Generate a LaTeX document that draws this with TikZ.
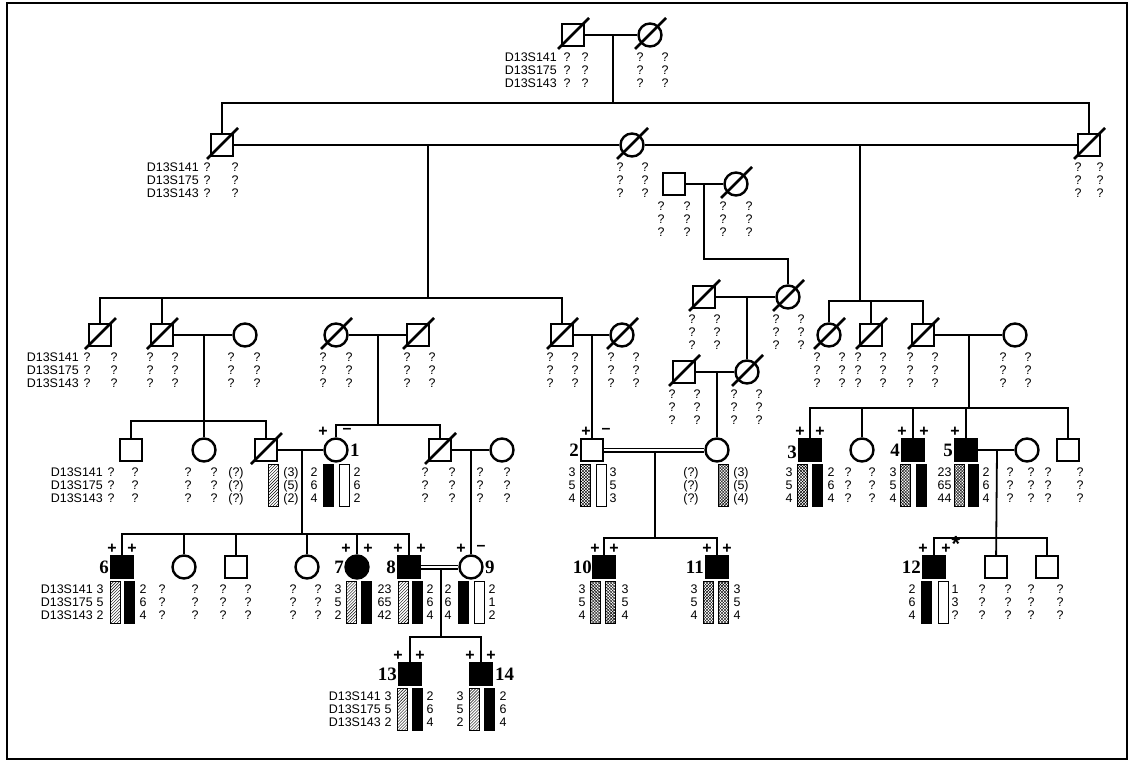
\documentclass[tikz,border=0pt]{standalone}
\usepackage{fontspec}
\setmainfont{Liberation Sans}
\newfontfamily\idfont{Liberation Serif}
\usetikzlibrary{patterns}

% deceased mark, allele columns, marker names and haplotype bars
\newcommand\dead[1]{\draw[slash] ([shift={(-15,14)}]#1.center) -- ([shift={(16,-17)}]#1.center);}
\newcommand\alle[5]{%
  \node[al] (a-#1-#2-1) at (#1,#2+22) {#3};
  \node[al] (a-#1-#2-2) at (#1,#2+35) {#4};
  \node[al] (a-#1-#2-3) at (#1,#2+48) {#5};}
\newcommand\unk[2]{\alle{#1}{#2}{?}{?}{?}}
\newcommand\loci[2]{%
  \node[al,anchor=east] (l-#1-#2-1) at (#1,#2+22) {D13S141};
  \node[al,anchor=east] (l-#1-#2-2) at (#1,#2+35) {D13S175};
  \node[al,anchor=east] (l-#1-#2-3) at (#1,#2+48) {D13S143};}
\newcommand\hap[3]{\draw[#3] (#1,#2+14) rectangle (#1+10,#2+56);}

\begin{document}
\begin{tikzpicture}[x=1bp,y=-1bp]
  % y axis flipped: rows are counted in pixels from the top
  \tikzset{
    sym/.style={draw,line width=2.4bp,inner sep=0pt,fill=white},
    male/.style={sym,rectangle,minimum size=22bp},
    female/.style={sym,circle,minimum size=23bp},
    aff/.style={fill=black},
    slash/.style={line width=2.6bp},
    lnk/.style={line width=1.8bp},
    dbl/.style={line width=1.3bp,double,double distance=2.4bp},
    al/.style={inner sep=0pt,text height=8.5bp,text depth=0pt,
      font=\fontsize{12.5}{12.5}\selectfont},
    sg/.style={inner sep=0pt,font=\bfseries\fontsize{16}{16}\selectfont},
    pid/.style={inner sep=0pt,font=\idfont\bfseries\fontsize{19}{19}\selectfont},
    hat/.style={draw,line width=1bp,pattern=north east lines},
    crs/.style={draw,line width=1bp,pattern=crosshatch},
    blk/.style={draw,line width=1bp,fill=black},
    wht/.style={draw,line width=1bp,fill=white}}
  \useasboundingbox (0,0) rectangle (1131,764);
  \draw[line width=1.5bp] (7,3) rectangle (1127,759);

  % generation I
  \node[male] (I1) at (573,35) {};
  \node[female] (I2) at (650,35) {};
  % generation II
  \node[male] (II1) at (222,145) {};
  \node[female] (II2) at (632,145) {};
  \node[male] (II3) at (1089,145) {};
  \node[male] (II4) at (674,184) {};
  \node[female] (II5) at (736,184) {};
  % generation III
  \node[male] (III1) at (100,335) {};
  \node[male] (III2) at (162,335) {};
  \node[female] (III3) at (245,335) {};
  \node[female] (III4) at (336,335) {};
  \node[male] (III5) at (418,335) {};
  \node[male] (III6) at (562,335) {};
  \node[female] (III7) at (622,335) {};
  \node[male] (III8) at (704,297) {};
  \node[female] (III9) at (788,297) {};
  \node[male] (III10) at (684,372) {};
  \node[female] (III11) at (747,372) {};
  \node[female] (III12) at (829,335) {};
  \node[male] (III13) at (871,335) {};
  \node[male] (III14) at (923,335) {};
  \node[female] (III15) at (1015,335) {};
  % generation IV
  \node[male] (IV1) at (131,450) {};
  \node[female] (IV2) at (204,450) {};
  \node[male] (IV3) at (266,450) {};
  \node[female] (p1) at (336,450) {};
  \node[male] (IV5) at (440,450) {};
  \node[female] (IV6) at (502,450) {};
  \node[male] (p2) at (592,450) {};
  \node[female] (IV8) at (717,450) {};
  \node[male,aff] (p3) at (810,450) {};
  \node[female] (IV10) at (862,450) {};
  \node[male,aff] (p4) at (913,450) {};
  \node[male,aff] (p5) at (966,450) {};
  \node[female] (IV13) at (1027,450) {};
  \node[male] (IV14) at (1068,450) {};
  % generation V
  \node[male,aff] (p6) at (122,567) {};
  \node[female] (V2) at (184,567) {};
  \node[male] (V3) at (236,567) {};
  \node[female] (V4) at (307,567) {};
  \node[female,aff] (p7) at (357,567) {};
  \node[male,aff] (p8) at (409,567) {};
  \node[female] (p9) at (471,567) {};
  \node[male,aff] (p10) at (604,567) {};
  \node[male,aff] (p11) at (717,567) {};
  \node[male,aff] (p12) at (934,567) {};
  \node[male] (V13) at (996,567) {};
  \node[male] (V14) at (1047,567) {};
  % generation VI
  \node[male,aff] (p13) at (410,674) {};
  \node[male,aff] (p14) at (481,674) {};

  \foreach \n in {I1,I2,II1,II2,II3,II5,III1,III2,III4,III5,III6,III7,
    III8,III9,III10,III11,III12,III13,III14,IV3,IV5} {\dead{\n}}

  % marriages and descent lines
  \coordinate (m1) at (613,35); \coordinate (s1) at (613,103);
  \draw[lnk] (I1) -- (I2) (m1) -- (s1);
  \draw[lnk] (II1) |- (s1) -| (II3);
  \draw[lnk] (II1) -- (II2) (II2) -- (II3);
  \coordinate (m2a) at (428,145); \coordinate (s2a) at (428,298);
  \coordinate (m2b) at (860,145); \coordinate (s2b) at (860,301);
  \draw[lnk] (m2a) -- (s2a) (m2b) -- (s2b);
  \draw[lnk] (III1) |- (s2a) -| (III6);
  \draw[lnk] (III2) -- (III2 |- s2a);
  \draw[lnk] (III12) |- (s2b) -| (III14);
  \draw[lnk] (III13) -- (III13 |- s2b);
  \draw[lnk] (II4) -- (II5);
  \coordinate (m2c) at (704,184); \coordinate (k1) at (704,259);
  \draw[lnk] (m2c) -- (k1) -| (III9);
  \draw[lnk] (III8) -- (III9);
  \coordinate (m3a) at (747,297);
  \draw[lnk] (m3a) -- (III11);
  \draw[lnk] (III10) -- (III11);
  \coordinate (m3b) at (717,372);
  \draw[lnk] (m3b) -- (IV8);
  \draw[lnk] (III6) -- (III7);
  \coordinate (m3c) at (592,335);
  \draw[lnk] (m3c) -- (p2);
  \draw[lnk] (III2) -- (III3);
  \coordinate (m3d) at (204,335); \coordinate (s3d) at (204,421);
  \draw[lnk] (m3d) -- (IV2);
  \draw[lnk] (IV1) |- (s3d) -| (IV3);
  \draw[lnk] (III4) -- (III5);
  \coordinate (m3e) at (378,335); \coordinate (s3e) at (378,425);
  \draw[lnk] (m3e) -- (s3e);
  \draw[lnk] (p1) |- (s3e) -| (IV5);
  \draw[lnk] (III14) -- (III15);
  \coordinate (m3f) at (969,335); \coordinate (s3f) at (969,408);
  \draw[lnk] (m3f) -- (s3f);
  \draw[lnk] (p3) |- (s3f) -| (IV14);
  \foreach \n in {IV10,p4,p5} \draw[lnk] (\n) -- (\n |- s3f);
  \draw[lnk] (IV3) -- (p1);
  \coordinate (m4a) at (302,450); \coordinate (s4a) at (302,534);
  \draw[lnk] (m4a) -- (s4a);
  \draw[lnk] (p6) |- (s4a) -| (p8);
  \foreach \n in {V2,V3,V4,p7} \draw[lnk] (\n) -- (\n |- s4a);
  \draw[lnk] (IV5) -- (IV6);
  \coordinate (m4b) at (471,450);
  \draw[lnk] (m4b) -- (p9);
  \draw[dbl] (p2) -- (IV8);
  \coordinate (m4c) at (655,452); \coordinate (s4c) at (655,538);
  \draw[lnk] (m4c) -- (s4c);
  \draw[lnk] (p10) |- (s4c) -| (p11);
  \draw[lnk] (p5) -- (IV13);
  \coordinate (m4d) at (997,450); \coordinate (s4d) at (997,538);
  \draw[lnk] (m4d) -- (V13);
  \draw[lnk] (p12) |- (s4d) -| (V14);
  \draw[dbl] (p8) -- (p9);
  \coordinate (m5) at (441,569); \coordinate (s5) at (441,637);
  \draw[lnk] (m5) -- (s5);
  \draw[lnk] (p13) |- (s5) -| (p14);

  % marker names
  \loci{557}{35} \loci{199}{145} \loci{79}{335} \loci{103}{450}
  \loci{93}{567} \loci{381}{674}
  % unknown genotypes
  \foreach \x in {567,585,640,665} {\unk{\x}{35}}
  \foreach \x in {207,235,620,645,1078,1100} {\unk{\x}{145}}
  \foreach \x in {661,687,723,749} {\unk{\x}{184}}
  \foreach \x in {692,717,776,801} {\unk{\x}{297}}
  \foreach \x in {672,697,734,759} {\unk{\x}{372}}
  \foreach \x in {87,114,150,175,231,257,323,349,407,432,550,575,611,636,
    817,842,858,883,910,935,1003,1028} {\unk{\x}{335}}
  \foreach \x in {111,135,188,214,425,452,480,507,848,872,1010,1031,1048,1080}
    {\unk{\x}{450}}
  \foreach \x in {162,195,223,248,293,318,982,1008,1031,1060} {\unk{\x}{567}}

  % haplotypes, generation IV
  \alle{236}{450}{(?)}{(?)}{(?)} \hap{268}{450}{hat} \alle{291}{450}{(3)}{(5)}{(2)}
  \alle{314}{450}{2}{6}{4} \hap{323}{450}{blk} \hap{339}{450}{wht} \alle{357}{450}{2}{6}{2}
  \alle{572}{450}{3}{5}{4} \hap{580}{450}{crs} \hap{596}{450}{wht} \alle{613}{450}{3}{5}{3}
  \alle{691}{450}{(?)}{(?)}{(?)} \hap{718}{450}{crs} \alle{741}{450}{(3)}{(5)}{(4)}
  \alle{789}{450}{3}{5}{4} \hap{797}{450}{crs} \hap{812}{450}{blk} \alle{831}{450}{2}{6}{4}
  \alle{893}{450}{3}{5}{4} \hap{900}{450}{crs} \hap{916}{450}{blk} \alle{941}{450}{2}{6}{4}
  \alle{948}{450}{3}{5}{4} \hap{954}{450}{crs} \hap{968}{450}{blk} \alle{986}{450}{2}{6}{4}
  % haplotypes, generation V
  \alle{100}{567}{3}{5}{2} \hap{110}{567}{hat} \hap{124}{567}{blk} \alle{143}{567}{2}{6}{4}
  \alle{338}{567}{3}{5}{2} \hap{346}{567}{hat} \hap{361}{567}{blk} \alle{381}{567}{2}{6}{4}
  \alle{388}{567}{3}{5}{2} \hap{398}{567}{hat} \hap{412}{567}{blk} \alle{430}{567}{2}{6}{4}
  \alle{448}{567}{2}{6}{4} \hap{458}{567}{blk} \hap{474}{567}{wht} \alle{492}{567}{2}{1}{2}
  \alle{582}{567}{3}{5}{4} \hap{590}{567}{crs} \hap{605}{567}{crs} \alle{625}{567}{3}{5}{4}
  \alle{694}{567}{3}{5}{4} \hap{703}{567}{crs} \hap{718}{567}{crs} \alle{737}{567}{3}{5}{4}
  \alle{912}{567}{2}{6}{4} \hap{921}{567}{blk} \hap{938}{567}{wht} \alle{955}{567}{1}{3}{?}
  % haplotypes, generation VI
  \alle{388}{674}{3}{5}{2} \hap{397}{674}{hat} \hap{412}{674}{blk} \alle{430}{674}{2}{6}{4}
  \alle{460}{674}{3}{5}{2} \hap{469}{674}{hat} \hap{484}{674}{blk} \alle{503}{674}{2}{6}{4}

  % test results above the symbols
  \node[sg] (g1a) at (323,432) {+}; \node[sg] (g1b) at (347,431) {\textendash};
  \node[sg] (g2a) at (586,432) {+}; \node[sg] (g2b) at (606,431) {\textendash};
  \node[sg] (g3a) at (800,432) {+}; \node[sg] (g3b) at (820,432) {+};
  \node[sg] (g4a) at (902,432) {+}; \node[sg] (g4b) at (924,432) {+};
  \node[sg] (g5a) at (955,432) {+};
  \node[sg] (g6a) at (112,549) {+}; \node[sg] (g6b) at (132,549) {+};
  \node[sg] (g7a) at (346,549) {+}; \node[sg] (g7b) at (368,549) {+};
  \node[sg] (g8a) at (398,549) {+}; \node[sg] (g8b) at (421,549) {+};
  \node[sg] (g9a) at (461,549) {+}; \node[sg] (g9b) at (481,548) {\textendash};
  \node[sg] (g10a) at (595,549) {+}; \node[sg] (g10b) at (614,549) {+};
  \node[sg] (g11a) at (707,549) {+}; \node[sg] (g11b) at (727,549) {+};
  \node[sg] (g12a) at (923,549) {+}; \node[sg] (g12b) at (946,549) {+};
  \node[sg,font=\bfseries\fontsize{22}{22}\selectfont] (g12c) at (956,544) {*};
  \node[sg] (g13a) at (398,656) {+}; \node[sg] (g13b) at (420,656) {+};
  \node[sg] (g14a) at (470,656) {+}; \node[sg] (g14b) at (491,656) {+};

  % patient numbers
  \node[pid,anchor=west] (n1) at (350,450) {1};
  \node[pid,anchor=east] (n2) at (579,450) {2};
  \node[pid,anchor=east] (n3) at (797,452) {3};
  \node[pid,anchor=east] (n4) at (900,450) {4};
  \node[pid,anchor=east] (n5) at (953,450) {5};
  \node[pid,anchor=east] (n6) at (109,567) {6};
  \node[pid,anchor=east] (n7) at (344,567) {7};
  \node[pid,anchor=east] (n8) at (396,567) {8};
  \node[pid,anchor=west] (n9) at (485,567) {9};
  \node[pid,anchor=east] (n10) at (592,567) {10};
  \node[pid,anchor=east] (n11) at (704,567) {11};
  \node[pid,anchor=east] (n12) at (921,567) {12};
  \node[pid,anchor=east] (n13) at (397,674) {13};
  \node[pid,anchor=west] (n14) at (495,674) {14};
\end{tikzpicture}
\end{document}
